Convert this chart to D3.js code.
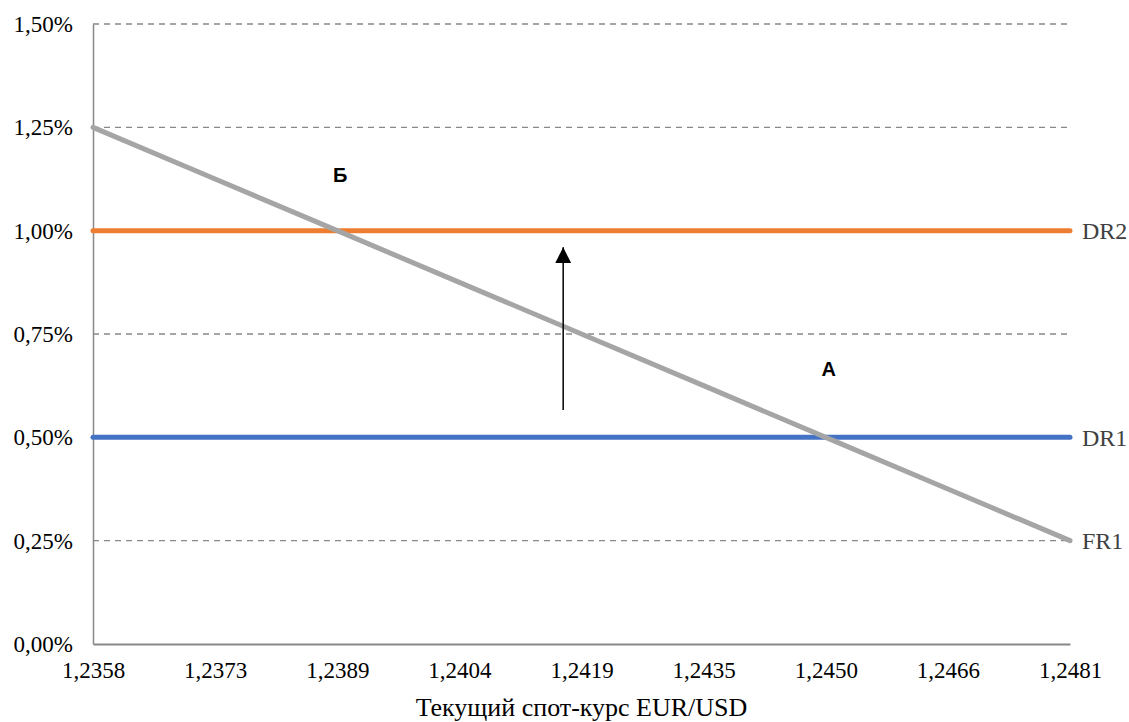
<!DOCTYPE html>
<html lang="ru">
<head>
  <meta charset="UTF-8">
  <title>Спот-курс EUR/USD</title>
  <script src="https://d3js.org/d3.v7.min.js"></script>
  <style>
    body { margin: 0; background: #fff; }
    svg text { font-family: "Liberation Serif", "Times New Roman", serif; }
    .tick-label { font-size: 23px; fill: #000; }
    .series-label { font-size: 24px; fill: #404040; }
    .zone-label { font-family: "Liberation Sans", Arial, sans-serif !important; font-size: 20px; font-weight: bold; fill: #000; }
  </style>
</head>
<body>
  <svg width="1129" height="722"></svg>
  <script>
    const categories = ['1,2358', '1,2373', '1,2389', '1,2404', '1,2419', '1,2435', '1,2450', '1,2466', '1,2481'];
    const fr1 = [1.25, 1.125, 1.0, 0.875, 0.75, 0.625, 0.5, 0.375, 0.25];
    const dr1 = [0.5, 0.5, 0.5, 0.5, 0.5, 0.5, 0.5, 0.5, 0.5];
    const dr2 = [1.0, 1.0, 1.0, 1.0, 1.0, 1.0, 1.0, 1.0, 1.0];
    const yTicks = [0, 0.25, 0.5, 0.75, 1.0, 1.25, 1.5];

    const svg = d3.select('svg');
    const margin = { top: 24, right: 59, bottom: 78, left: 93 };
    const width = +svg.attr('width') - margin.left - margin.right;
    const height = +svg.attr('height') - margin.top - margin.bottom;

    const chart = svg.append('g')
      .attr('transform', `translate(${margin.left},${margin.top})`);

    const x = d3.scalePoint().domain(categories).range([0, width]);
    const y = d3.scaleLinear().domain([0, 1.5]).range([height, 0]);
    const fmtPct = d => d.toFixed(2).replace('.', ',') + '%';

    // dashed grid
    chart.selectAll('.grid')
      .data(yTicks.filter(d => d > 0))
      .enter().append('line')
      .attr('x1', 0).attr('x2', width)
      .attr('y1', d => y(d)).attr('y2', d => y(d))
      .attr('stroke', '#888').attr('stroke-width', 1.3)
      .attr('stroke-dasharray', '6,5');

    // axes
    const yAxis = chart.append('g').call(d3.axisLeft(y).tickValues(yTicks).tickFormat(fmtPct).tickSize(0).tickPadding(20));
    yAxis.select('.domain').attr('stroke', '#888').attr('stroke-width', 1.5);
    yAxis.selectAll('text').attr('class', 'tick-label').attr('dy', '0.32em');

    const xAxis = chart.append('g').attr('transform', `translate(0,${height})`)
      .call(d3.axisBottom(x).tickSize(0).tickPadding(17));
    xAxis.select('.domain').attr('stroke', '#888').attr('stroke-width', 2);
    xAxis.selectAll('text').attr('class', 'tick-label').attr('dy', '0.75em');

    svg.append('text')
      .attr('x', margin.left + width / 2)
      .attr('y', 716)
      .attr('text-anchor', 'middle')
      .style('font-size', '26px')
      .text('Текущий спот-курс EUR/USD');

    // series
    const series = [
      { name: 'DR1', values: dr1, color: '#4472c4' },
      { name: 'DR2', values: dr2, color: '#ed7d31' },
      { name: 'FR1', values: fr1, color: '#a5a5a5' }
    ];
    const line = d3.line().x((d, i) => x(categories[i])).y(d => y(d));

    chart.selectAll('.series')
      .data(series)
      .enter().append('path')
      .attr('d', d => line(d.values))
      .attr('fill', 'none')
      .attr('stroke', d => d.color)
      .attr('stroke-width', 5)
      .attr('stroke-linecap', 'round');

    chart.selectAll('.series-label')
      .data(series)
      .enter().append('text')
      .attr('class', 'series-label')
      .attr('x', width + 12)
      .attr('y', d => y(d.values[d.values.length - 1]))
      .attr('dy', '0.35em')
      .text(d => d.name);

    // arrow
    const arrowX = x(categories[3]) + 0.85 * x.step();
    svg.append('defs').append('marker')
      .attr('id', 'head')
      .attr('viewBox', '0 0 10 10')
      .attr('refX', 10).attr('refY', 5)
      .attr('markerWidth', 16).attr('markerHeight', 16)
      .attr('markerUnits', 'userSpaceOnUse')
      .attr('orient', 'auto')
      .append('path').attr('d', 'M0,0 L10,5 L0,10 Z').attr('fill', '#000');

    chart.append('line')
      .attr('x1', arrowX).attr('x2', arrowX)
      .attr('y1', y(0.566)).attr('y2', y(0.96))
      .attr('stroke', '#000').attr('stroke-width', 1.5)
      .attr('marker-end', 'url(#head)');

    // zone labels
    const zones = [
      { label: 'Б', cat: 2, value: 1.135 },
      { label: 'А', cat: 6, value: 0.665 }
    ];
    chart.selectAll('.zone-label')
      .data(zones)
      .enter().append('text')
      .attr('class', 'zone-label')
      .attr('x', d => x(categories[d.cat]) + 3)
      .attr('y', d => y(d.value))
      .attr('text-anchor', 'middle')
      .attr('dy', '0.35em')
      .text(d => d.label);
  </script>
</body>
</html>
